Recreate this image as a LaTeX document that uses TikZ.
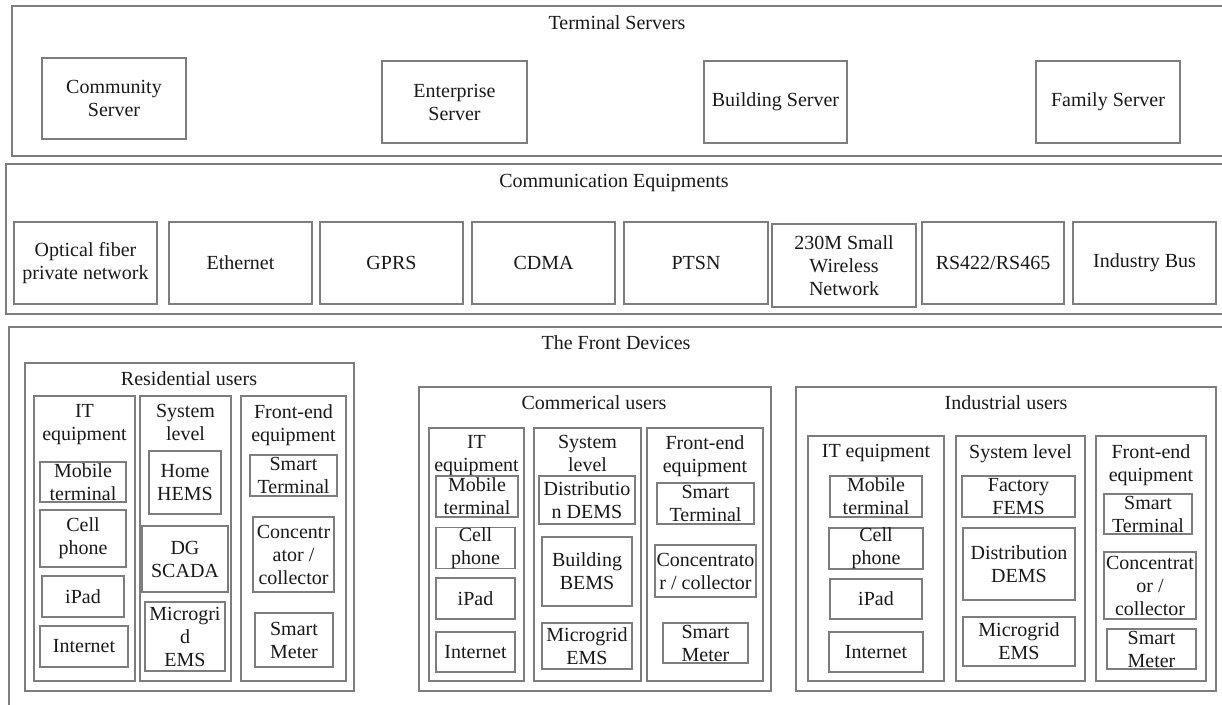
\documentclass[tikz,border=0pt]{standalone}
\usepackage{fontspec}
\setmainfont{Liberation Serif}
\definecolor{edge}{RGB}{125,125,125}
\definecolor{ink}{RGB}{25,25,25}
% \ubox{name}{x1}{y1}{x2}{y2}{text}: framed box spanning two corners, text centred
\newcommand{\ubox}[6]{\node[box, minimum width={#4-#2}, minimum height={#5-#3}]
  (#1) at ({(#2+#4)/2},{(#3+#5)/2}) {#6};}
\begin{document}
\begin{tikzpicture}[x=1pt, y=-1pt,
  box/.style={draw=edge, line width=1.2pt, inner sep=0pt, align=center,
              text=ink, font=\fontsize{20}{23}\selectfont},
  ttl/.style={inner sep=0pt, align=center, anchor=north, text=ink,
              font=\fontsize{20}{23}\selectfont}]
\useasboundingbox (0,0) rectangle (1222,704);
\clip (0,0) rectangle (1222,704);

% ---------------- layer frames (open to the right and bottom) ----------------
\ubox{servers}{12}{6}{1240}{156}{}
\ubox{comms}{6}{164}{1240}{314}{}
\ubox{front}{9}{327}{1240}{730}{}

\node[ttl] (servers-t) at (617,15) {Terminal Servers};
\node[ttl] (comms-t) at (614,174) {Communication Equipments};
\node[ttl] (front-t) at (616,335) {The Front Devices};

% ---------------- terminal servers ----------------
\ubox{community}{42}{58}{186}{139}{Community\\Server}
\ubox{enterprise}{382}{61}{527}{143}{Enterprise\\Server}
\ubox{building}{704}{61}{847}{143}{Building Server}
\ubox{family}{1036}{61}{1180}{143}{Family Server}

% ---------------- communication equipments ----------------
\ubox{fiber}{14}{222}{157}{304}{Optical fiber\\private network}
\ubox{ethernet}{169}{222}{312}{304}{Ethernet}
\ubox{gprs}{320}{222}{463}{304}{GPRS}
\ubox{cdma}{472}{222}{615}{304}{CDMA}
\ubox{ptsn}{624}{222}{768}{304}{PTSN}
\ubox{wireless}{772}{224}{916}{307}{230M Small\\Wireless\\Network}
\ubox{rs}{922}{222}{1064}{304}{RS422/RS465}
\ubox{bus}{1073}{222}{1216}{304}{Industry Bus}

% ---------------- residential users ----------------
\ubox{res}{25}{363}{354}{691}{}
\node[ttl] (res-t) at (189,371) {Residential users};
\ubox{res-it}{34}{396}{135}{681}{}
\ubox{res-sys}{140}{396}{231}{681}{}
\ubox{res-fe}{241}{396}{346}{681}{}
\node[ttl] (res-it-t) at (84.5,404) {IT\\equipment};
\node[ttl] (res-sys-t) at (185.5,404) {System\\level};
\node[ttl] (res-fe-t) at (293.5,404) {Front-end\\equipment};
\ubox{res-mob}{40}{462}{126}{502}{Mobile\\terminal}
\ubox{res-cell}{40}{510}{126}{567}{Cell\\phone}
\ubox{res-ipad}{42}{576}{124}{617}{iPad}
\ubox{res-net}{40}{626}{128}{667}{Internet}
\ubox{res-hems}{149}{451}{221}{514}{Home\\HEMS}
\ubox{res-dg}{142}{526}{228}{592}{DG\\SCADA}
\ubox{res-mg}{145}{602}{225}{671}{Microgri\\d\\EMS}
\ubox{res-st}{250}{455}{337}{496}{Smart\\Terminal}
\ubox{res-cc}{253}{517}{334}{592}{Concentr\\ator /\\collector}
\ubox{res-sm}{255}{613}{333}{667}{Smart\\Meter}

% ---------------- commercial users ----------------
\ubox{com}{419}{387}{771}{691}{}
\node[ttl] (com-t) at (594,395) {Commerical users};
\ubox{com-it}{429}{428}{524}{681}{}
\ubox{com-sys}{534}{428}{641}{681}{}
\ubox{com-fe}{647}{428}{763}{681}{}
\node[ttl] (com-it-t) at (476.5,435) {IT\\equipment};
\node[ttl] (com-sys-t) at (587.5,435) {System\\level};
\node[ttl] (com-fe-t) at (705,435) {Front-end\\equipment};
\ubox{com-mob}{436}{476}{518}{517}{Mobile\\terminal}
\ubox{com-cell}{436}{528}{515}{568}{Cell\\phone}
\ubox{com-ipad}{436}{578}{515}{619}{iPad}
\ubox{com-net}{436}{632}{515}{672}{Internet}
\ubox{com-dems}{539}{476}{635}{524}{Distributio\\n DEMS}
\ubox{com-bems}{542}{537}{632}{606}{Building\\BEMS}
\ubox{com-mg}{542}{623}{632}{669}{Microgrid\\EMS}
\ubox{com-st}{657}{483}{754}{524}{Smart\\Terminal}
\ubox{com-cc}{655}{545}{756}{597}{Concentrato\\r / collector}
\ubox{com-sm}{663}{623}{748}{663}{Smart\\Meter}

% ---------------- industrial users ----------------
\ubox{ind}{796}{387}{1216}{691}{}
\node[ttl] (ind-t) at (1006,395) {Industrial users};
\ubox{ind-it}{808}{436}{944}{681}{}
\ubox{ind-sys}{956}{436}{1085}{681}{}
\ubox{ind-fe}{1096}{436}{1206}{681}{}
\node[ttl] (ind-it-t) at (876,444) {IT equipment};
\node[ttl] (ind-sys-t) at (1020.5,444) {System level};
\node[ttl] (ind-fe-t) at (1151,444) {Front-end\\equipment};
\ubox{ind-mob}{830}{476}{922}{517}{Mobile\\terminal}
\ubox{ind-cell}{829}{528}{923}{569}{Cell\\phone}
\ubox{ind-ipad}{830}{579}{922}{619}{iPad}
\ubox{ind-net}{829}{632}{923}{672}{Internet}
\ubox{ind-fems}{962}{476}{1075}{517}{Factory\\FEMS}
\ubox{ind-dems}{963}{528}{1075}{600}{Distribution\\DEMS}
\ubox{ind-mg}{963}{617}{1075}{666}{Microgrid\\EMS}
\ubox{ind-st}{1104}{494}{1192}{534}{Smart\\Terminal}
\ubox{ind-cc}{1104}{552}{1196}{619}{Concentrat\\or /\\collector}
\ubox{ind-sm}{1107}{629}{1196}{669}{Smart\\Meter}
\end{tikzpicture}
\end{document}
